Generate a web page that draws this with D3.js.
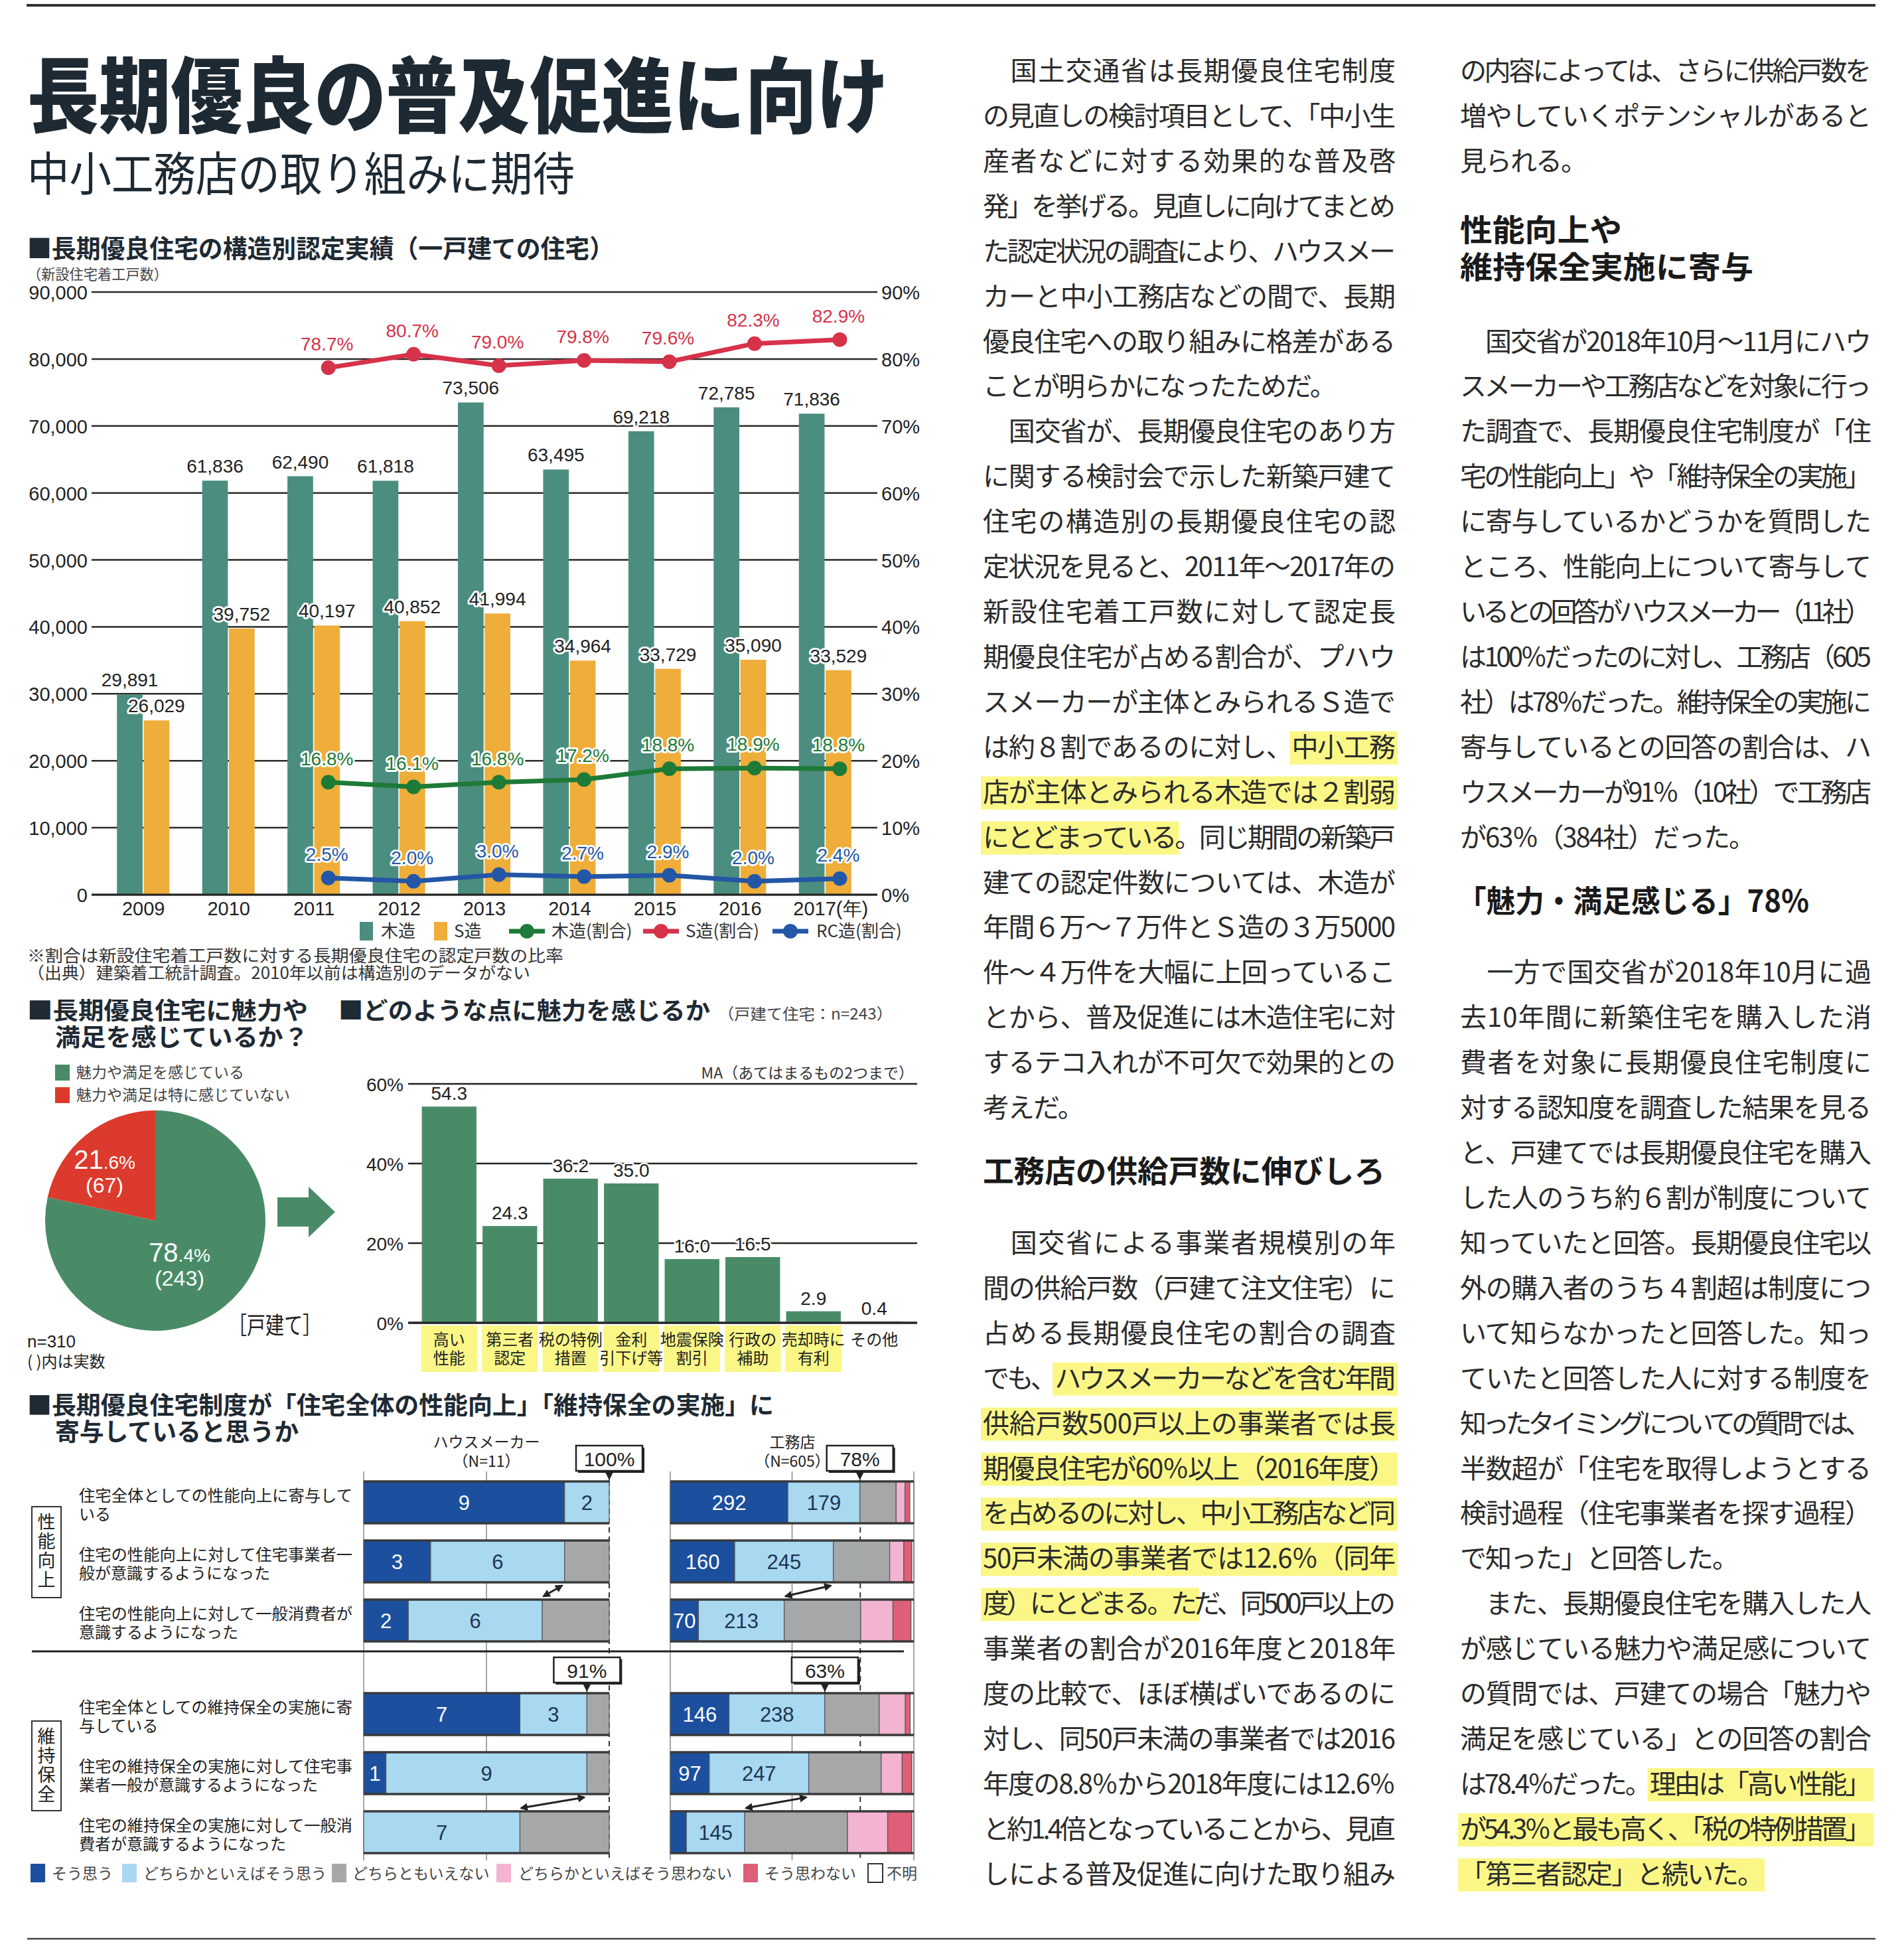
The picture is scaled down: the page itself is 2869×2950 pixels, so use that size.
<!DOCTYPE html>
<html><head><meta charset="utf-8">
<script src="https://cdn.jsdelivr.net/npm/d3@7/dist/d3.min.js"></script>
<style>html,body{margin:0;padding:0;background:#fff}svg{display:block}</style>
</head><body>
<svg id="page" width="2869" height="2950" xmlns="http://www.w3.org/2000/svg"></svg>
<script>
// ================= DATA =================
const years=["2009","2010","2011","2012","2013","2014","2015","2016","2017"];
const woodUnits=[29891,61836,62490,61818,73506,63495,69218,72785,71836];
const steelUnits=[26029,39752,40197,40852,41994,34964,33729,35090,33529];
const rateYears=["2011","2012","2013","2014","2015","2016","2017"];
const steelShare=[78.7,80.7,79.0,79.8,79.6,82.3,82.9];
const woodShare=[16.8,16.1,16.8,17.2,18.8,18.9,18.8];
const rcShare=[2.5,2.0,3.0,2.7,2.9,2.0,2.4];
const unitTicks=[0,10000,20000,30000,40000,50000,60000,70000,80000,90000];
const shareTicks=[0,10,20,30,40,50,60,70,80,90];
const chart1Legend=["木造","S造","木造(割合)","S造(割合)","RC造(割合)"];

const pieNames=["魅力や満足を感じている","魅力や満足は特に感じていない"];
const pieShares=[78.4,21.6];
const pieCounts=[243,67];

const reasonNames=[["高い","性能"],["第三者","認定"],["税の特例","措置"],["金利","引下げ等"],["地震保険","割引"],["行政の","補助"],["売却時に","有利"],["その他"]];
const reasonShares=[54.3,24.3,36.2,35.0,16.0,16.5,2.9,0.4];
const reasonTicks=[0,20,40,60];

const answerNames=["そう思う","どちらかといえばそう思う","どちらともいえない","どちらかといえばそう思わない","そう思わない","不明"];
const questionLines=[
 ["住宅全体としての性能向上に寄与して","いる"],
 ["住宅の性能向上に対して住宅事業者一","般が意識するようになった"],
 ["住宅の性能向上に対して一般消費者が","意識するようになった"],
 ["住宅全体としての維持保全の実施に寄","与している"],
 ["住宅の維持保全の実施に対して住宅事","業者一般が意識するようになった"],
 ["住宅の維持保全の実施に対して一般消","費者が意識するようになった"]];
const groupNames=["性能向上","維持保全"];
const makerN=11, builderN=605;
const makerCounts=[[9,2,0,0,0,0],[3,6,2,0,0,0],[2,6,3,0,0,0],[7,3,1,0,0,0],[1,9,1,0,0,0],[0,7,4,0,0,0]];
const builderCounts=[[292,179,90,22,12,10],[160,245,140,35,20,5],[70,213,190,80,45,7],[146,238,135,65,12,9],[97,247,180,52,24,5],[40,145,255,100,60,5]];
const calloutLabels=[{side:"maker",row:0,label:"100%"},{side:"builder",row:0,label:"78%"},{side:"maker",row:3,label:"91%"},{side:"builder",row:3,label:"63%"}];
const arrowPairs=[[1,2],[4,5]];

// ================= STYLE =================
const svg=d3.select("#page");
const JP='"Noto Sans CJK JP","Noto Sans CJK SC",sans-serif';
const NUM='"Liberation Sans",Arial,sans-serif';
const INK="#222";
const C={bar:"#4b8d7e",steel:"#efad3a",red:"#d6324a",green:"#1e7a37",blue:"#2356a6",pieG:"#4a8b67",pieR:"#dc3a2c",hl:"rgba(248,244,95,0.75)",title:"#1d2933"};
const ansColors=["#1c4f9d","#a9d8f1","#a5a7a9","#f2b4d0","#de5f78","#ffffff"];

function txt(g,x,y,s,o={}){
  const t=g.append("text").attr("x",x).attr("y",y).text(s)
   .attr("font-family",o.ff||JP).attr("font-size",o.fs||24).attr("fill",o.fill||INK)
   .attr("font-weight",o.fw||400).attr("text-anchor",o.anchor||"start");
  if(o.tl) t.attr("textLength",o.tl).attr("lengthAdjust",o.la||"spacingAndGlyphs");
  if(o.halo) t.attr("stroke","#fff").attr("stroke-width",o.halo).attr("paint-order","stroke").attr("stroke-linejoin","round");
  return t;
}

// page rules
svg.append("line").attr("x1",40).attr("x2",2826).attr("y1",8).attr("y2",8).attr("stroke","#333").attr("stroke-width",4);
svg.append("line").attr("x1",41).attr("x2",2826).attr("y1",2921).attr("y2",2921).attr("stroke","#444").attr("stroke-width",2.5);

// titles
txt(svg,41,190,"長期優良の普及促進に向け",{fs:124,fw:900,fill:C.title,tl:1298});
txt(svg,41,288,"中小工務店の取り組みに期待",{fs:70,fw:400,fill:C.title,tl:825});

// ================= CHART 1 =================
const g1=svg.append("g");
txt(g1,41,388,"■長期優良住宅の構造別認定実績（一戸建ての住宅）",{fs:38,fw:700,fill:"#1f2a33",tl:884});
txt(g1,41,421,"（新設住宅着工戸数）",{fs:22,fill:"#444",tl:212});

const x1=d3.scaleBand().domain(years).range([152,1308]);
const c1=d=>x1(d)+x1.bandwidth()/2;
const sub1=d3.scaleBand().domain(["wood","steel"]).range([-40,39]).paddingInner(0.04);
const y1=d3.scaleLinear().domain([0,90000]).range([1348,440]);
const yR=d3.scaleLinear().domain([0,90]).range([1348,440]);

g1.append("g").selectAll("line").data(unitTicks).join("line")
 .attr("x1",138).attr("x2",1322).attr("y1",d=>y1(d)).attr("y2",d=>y1(d))
 .attr("stroke","#2a2a2a").attr("stroke-width",2.5);

const axL=g1.append("g").attr("transform","translate(138,0)")
 .call(d3.axisLeft(y1).tickValues(unitTicks).tickFormat(d3.format(",")).tickSize(0).tickPadding(6));
axL.select(".domain").remove();
axL.selectAll("text").attr("font-size",29).attr("font-family",NUM).attr("fill","#222").attr("dy","0.36em");
const axR=g1.append("g").attr("transform","translate(1322,0)")
 .call(d3.axisRight(yR).tickValues(shareTicks).tickFormat(d=>d+"%").tickSize(0).tickPadding(6));
axR.select(".domain").remove();
axR.selectAll("text").attr("font-size",29).attr("font-family",NUM).attr("fill","#222").attr("dy","0.36em");

const barData=years.map((y,i)=>({y,wood:woodUnits[i],steel:steelUnits[i]}));
g1.append("g").selectAll("rect.w").data(barData).join("rect")
 .attr("x",d=>c1(d.y)+sub1("wood")).attr("width",sub1.bandwidth())
 .attr("y",d=>y1(d.wood)).attr("height",d=>y1(0)-y1(d.wood)).attr("fill",C.bar);
g1.append("g").selectAll("rect.s").data(barData).join("rect")
 .attr("x",d=>c1(d.y)+sub1("steel")).attr("width",sub1.bandwidth())
 .attr("y",d=>y1(d.steel)).attr("height",d=>y1(0)-y1(d.steel)).attr("fill",C.steel);
g1.append("line").attr("x1",138).attr("x2",1322).attr("y1",y1(0)).attr("y2",y1(0)).attr("stroke","#222").attr("stroke-width",3);

const fmt=d3.format(",");
barData.forEach(d=>{
  txt(g1,c1(d.y)+sub1("wood")+sub1.bandwidth()/2,y1(d.wood)-12,fmt(d.wood),{ff:NUM,fs:28,anchor:"middle",halo:6});
  txt(g1,c1(d.y)+sub1("steel")+sub1.bandwidth()/2,y1(d.steel)-12,fmt(d.steel),{ff:NUM,fs:28,anchor:"middle",halo:6});
});
// x labels
g1.append("g").selectAll("text").data(years).join("text")
 .attr("x",d=>c1(d)+(d==="2017"?8:0)).attr("y",1379).attr("text-anchor","middle")
 .attr("font-family",NUM).attr("font-size",29).attr("fill","#222")
 .text(d=>d==="2017"?"2017(年)":d);

const lx=d=>c1(d)+sub1("steel")+sub1.bandwidth()/2+2;
const line1=d3.line().x(d=>lx(d.y)).y(d=>yR(d.v));
const series=[{vals:steelShare,color:C.red,halo:0},{vals:woodShare,color:C.green,halo:6},{vals:rcShare,color:C.blue,halo:6}];
series.forEach(s=>{
  const pts=rateYears.map((y,i)=>({y,v:s.vals[i]}));
  g1.append("path").datum(pts).attr("d",line1).attr("fill","none").attr("stroke",s.color).attr("stroke-width",7).attr("stroke-linejoin","round");
  g1.append("g").selectAll("circle").data(pts).join("circle").attr("cx",d=>lx(d.y)).attr("cy",d=>yR(d.v)).attr("r",11).attr("fill",s.color);
  pts.forEach(d=>txt(g1,lx(d.y)-2,yR(d.v)-26,d.v.toFixed(1)+"%",{ff:NUM,fs:28,anchor:"middle",fill:s.color,halo:s.halo||null}));
});
// legend
const lg=g1.append("g").attr("font-family",JP);
const legY=1403;
lg.append("rect").attr("x",542).attr("y",legY-14).attr("width",20).attr("height",28).attr("fill",C.bar);
txt(lg,574,legY+9,chart1Legend[0],{fs:26,fill:"#333"});
lg.append("rect").attr("x",654).attr("y",legY-14).attr("width",20).attr("height",28).attr("fill",C.steel);
txt(lg,684,legY+9,chart1Legend[1],{fs:26,fill:"#333"});
[[767,C.green,831,2],[969,C.red,1033,3],[1164,C.blue,1230,4]].forEach(([x,c,tx,k])=>{
  lg.append("line").attr("x1",x).attr("x2",x+54).attr("y1",legY).attr("y2",legY).attr("stroke",c).attr("stroke-width",7);
  lg.append("circle").attr("cx",x+27).attr("cy",legY).attr("r",11).attr("fill",c);
  txt(lg,tx,legY+9,chart1Legend[k],{fs:26,fill:"#333"});
});
txt(g1,41,1449,"※割合は新設住宅着工戸数に対する長期優良住宅の認定戸数の比率",{fs:25,fill:"#333",tl:808});
txt(g1,41,1475,"（出典）建築着工統計調査。2010年以前は構造別のデータがない",{fs:25,fill:"#333",tl:758});

// ================= PIE =================
const gp=svg.append("g");
txt(gp,41,1536,"■長期優良住宅に魅力や",{fs:36,fw:700,fill:"#1f2a33",tl:423});
txt(gp,83,1576,"満足を感じているか？",{fs:36,fw:700,fill:"#1f2a33",tl:382});
[[C.pieG,1616,0],[C.pieR,1650,1]].forEach(([c,y,i])=>{
  gp.append("rect").attr("x",83).attr("y",y-12).attr("width",22).attr("height",24).attr("fill",c);
  txt(gp,115,y+8,pieNames[i],{fs:23,fill:"#444"});
});
const pcx=234,pcy=1839,pr=166;
const pie=d3.pie().sort(null)(pieShares);
const arc=d3.arc().innerRadius(0).outerRadius(pr);
const labArc=d3.arc().innerRadius(90).outerRadius(90);
const pg=gp.append("g").attr("transform",`translate(${pcx},${pcy})`);
pg.selectAll("path").data(pie).join("path").attr("d",arc).attr("fill",(d,i)=>i===0?C.pieG:C.pieR);
pie.forEach((d,i)=>{
  const [lx0,ly0]=labArc.centroid(d);
  const px=lx0-20, py=ly0-8;
  const t=pg.append("text").attr("x",px).attr("y",py).attr("text-anchor","middle").attr("fill","#fff").attr("font-family",NUM);
  const parts=pieShares[i].toFixed(1).split(".");
  t.append("tspan").attr("font-size",40).text(parts[0]);
  t.append("tspan").attr("font-size",28).text("."+parts[1]+"%");
  pg.append("text").attr("x",px).attr("y",py+36).attr("text-anchor","middle").attr("fill","#fff").attr("font-family",NUM).attr("font-size",32).text("("+pieCounts[i]+")");
});
txt(gp,344,2010,"［戸建て］",{fs:36,fill:"#222",tl:140});
txt(gp,41,2030,"n=310",{ff:NUM,fs:26,fill:"#222"});
txt(gp,41,2060,"( )内は実数",{fs:24,fill:"#222"});
gp.append("path").attr("d","M418,1804L465,1804L465,1788L505,1826L465,1864L465,1848L418,1848Z").attr("fill",C.pieG);

// ================= CHART 2 =================
const g2=svg.append("g");
txt(g2,510,1536,"■どのような点に魅力を感じるか",{fs:36,fw:700,fill:"#1f2a33",tl:560});
txt(g2,1082,1536,"（戸建て住宅：n=243）",{fs:23,fill:"#444",tl:263});
txt(g2,1377,1625,"MA（あてはまるもの2つまで）",{fs:23,fill:"#333",anchor:"end"});
const reasonKeys=reasonNames.map(d=>d.join(""));
const x2=d3.scaleBand().domain(reasonKeys).range([631,1363]).paddingInner(0.1).paddingOuter(0.05);
const y2=d3.scaleLinear().domain([0,60]).range([1993,1633]);
g2.append("g").selectAll("line").data(reasonTicks).join("line").attr("x1",615).attr("x2",1382)
 .attr("y1",d=>y2(d)).attr("y2",d=>y2(d)).attr("stroke","#222").attr("stroke-width",d=>d===0?3:2.5);
const ax2=g2.append("g").attr("transform","translate(615,0)")
 .call(d3.axisLeft(y2).tickValues(reasonTicks).tickFormat(d=>d+"%").tickSize(0).tickPadding(7));
ax2.select(".domain").remove();
ax2.selectAll("text").attr("font-size",28).attr("font-family",NUM).attr("fill","#222").attr("dy","0.36em");
const rData=reasonKeys.map((k,i)=>({k,v:reasonShares[i],lines:reasonNames[i],i}));
g2.append("g").selectAll("rect").data(rData).join("rect").attr("x",d=>x2(d.k)).attr("width",x2.bandwidth())
 .attr("y",d=>y2(d.v)).attr("height",d=>y2(0)-y2(d.v)).attr("fill",d=>d.i===7?"#8a9a90":C.pieG);
g2.append("line").attr("x1",615).attr("x2",1382).attr("y1",y2(0)).attr("y2",y2(0)).attr("stroke","#222").attr("stroke-width",3);
rData.forEach(d=>{
  txt(g2,x2(d.k)+x2.bandwidth()/2,y2(d.v)-10,d.v.toFixed(1),{ff:NUM,fs:28,anchor:"middle",halo:5});
  if(d.i<7) g2.append("rect").attr("x",x2(d.k)-1).attr("y",1997).attr("width",x2.bandwidth()+2).attr("height",70).attr("fill",C.hl);
  d.lines.forEach((s,j)=>txt(g2,x2(d.k)+x2.bandwidth()/2,2027+j*28,s,{fs:24,anchor:"middle",fill:"#222"}));
});

// ================= CHART 3 (stacked) =================
const g3=svg.append("g");
txt(g3,41,2131,"■長期優良住宅制度が「住宅全体の性能向上」「維持保全の実施」に",{fs:37,fw:700,fill:"#1f2a33",tl:1125});
txt(g3,83,2171,"寄与していると思うか",{fs:37,fw:700,fill:"#1f2a33",tl:367});
const xMaker=d3.scaleLinear().domain([0,makerN]).range([548,918]);
const xBuilder=d3.scaleLinear().domain([0,builderN]).range([1010,1377]);
const rowTop=i=>2232+89*i+(i>=3?52:0);
const rowH=63;
txt(g3,733,2181,"ハウスメーカー",{fs:23,anchor:"middle",fill:"#222"});
txt(g3,733,2210,"（N=11）",{fs:23,anchor:"middle",fill:"#222"});
txt(g3,1194,2181,"工務店",{fs:23,anchor:"middle",fill:"#222"});
txt(g3,1194,2210,"（N=605）",{fs:23,anchor:"middle",fill:"#222"});
// grid
const vgrid=[[xMaker(0),0],[xMaker(makerN/2),0],[xMaker(makerN),1],[xBuilder(0),0],[xBuilder(builderN/2),0],[xBuilder(builderN*0.78),1],[xBuilder(builderN),0]];
g3.append("g").selectAll("line").data(vgrid).join("line").attr("x1",d=>d[0]).attr("x2",d=>d[0]).attr("y1",2217).attr("y2",2803)
 .attr("stroke",d=>d[1]?"#333":"#888").attr("stroke-width",d=>d[1]?2:1.5).attr("stroke-dasharray",d=>d[1]?"8,6":null);
g3.append("line").attr("x1",48).attr("x2",1362).attr("y1",2488).attr("y2",2488).attr("stroke","#222").attr("stroke-width",3);

function stackRow(vals){let c=0;return vals.map((v,k)=>{const o={k,v,a:c,b:c+v};c+=v;return o;});}
[[makerCounts,xMaker],[builderCounts,xBuilder]].forEach(([rows,xs])=>{
  rows.forEach((vals,i)=>{
    const y=rowTop(i);
    const st=stackRow(vals).filter(d=>d.v>0);
    g3.append("g").selectAll("rect").data(st).join("rect").attr("x",d=>xs(d.a)).attr("width",d=>xs(d.b)-xs(d.a))
      .attr("y",y).attr("height",rowH).attr("fill",d=>ansColors[d.k]).attr("stroke","#555").attr("stroke-width",1.2);
    const x0=xs.range()[0],x1r=xs.range()[1];
    g3.append("line").attr("x1",x0).attr("x2",x1r).attr("y1",y).attr("y2",y).attr("stroke","#3a3a3a").attr("stroke-width",3.5);
    g3.append("line").attr("x1",x0).attr("x2",x1r).attr("y1",y+rowH).attr("y2",y+rowH).attr("stroke","#3a3a3a").attr("stroke-width",3.5);
    st.filter(d=>d.k<2 && xs(d.b)-xs(d.a)>30).forEach(d=>{
      txt(g3,(xs(d.a)+xs(d.b))/2,y+rowH/2+11,String(d.v),{ff:NUM,fs:31,anchor:"middle",fill:d.k===0?"#fff":"#1d3550"});
    });
  });
  arrowPairs.forEach(([a,b])=>{
    const pa=rows[a][0]+rows[a][1], pb=rows[b][0]+rows[b][1];
    const xa=xs(pa)-4, xb=xs(pb)+2, ya=rowTop(a)+rowH+5, yb=rowTop(b)-5;
    g3.append("line").attr("x1",xa).attr("y1",ya).attr("x2",xb).attr("y2",yb).attr("stroke","#222").attr("stroke-width",3)
      .attr("marker-start","url(#ah)").attr("marker-end","url(#ah)");
  });
});
const defs=svg.append("defs");
defs.append("marker").attr("id","ah").attr("viewBox","0 0 10 10").attr("refX",8).attr("refY",5).attr("markerWidth",4).attr("markerHeight",4).attr("orient","auto-start-reverse")
 .append("path").attr("d","M0,0L10,5L0,10Z").attr("fill","#222");
// callouts
calloutLabels.forEach(c=>{
  const rows=c.side==="maker"?makerCounts:builderCounts, xs=c.side==="maker"?xMaker:xBuilder;
  const xv=xs(rows[c.row][0]+rows[c.row][1]);
  const bt=rowTop(c.row)-54, bw=100, bh=38;
  g3.append("rect").attr("x",xv-bw/2+3).attr("y",bt+3).attr("width",bw).attr("height",bh).attr("fill","#222");
  g3.append("rect").attr("x",xv-bw/2).attr("y",bt).attr("width",bw).attr("height",bh).attr("fill","#fff").attr("stroke","#222").attr("stroke-width",2.5);
  txt(g3,xv,bt+31,c.label,{ff:NUM,fs:30,anchor:"middle",fill:"#222"});
  g3.append("path").attr("d",`M${xv-6},${bt+bh+2}L${xv+6},${bt+bh+2}L${xv},${bt+bh+14}Z`).attr("fill","#222");
  g3.append("line").attr("x1",xv).attr("x2",xv).attr("y1",bt+bh+12).attr("y2",rowTop(c.row)).attr("stroke","#222").attr("stroke-width",1.5);
});
// question labels & groups
questionLines.forEach((ls,i)=>{
  const cy=rowTop(i)+rowH/2;
  ls.forEach((s,j)=>txt(g3,119,cy-2+j*28,s,{fs:24,fill:"#222",tl:j===0?412:null}));
});
groupNames.forEach((nm,gi)=>{
  const top=gi===0?2270:2593, h=gi===0?137:135;
  g3.append("rect").attr("x",48).attr("y",top).attr("width",44).attr("height",h).attr("fill","none").attr("stroke","#333").attr("stroke-width",2);
  [...nm].forEach((ch,k)=>txt(g3,70,top+33+29*k,ch,{fs:27,anchor:"middle",fill:"#222"}));
});
// legend
const lx3=[46,184,500,748,1120,1308], ltx=[78,216,531,781,1152,1336];
answerNames.forEach((nm,k)=>{
  g3.append("rect").attr("x",lx3[k]).attr("y",2808).attr("width",22).attr("height",28).attr("fill",ansColors[k]).attr("stroke",k===5?"#333":"none").attr("stroke-width",2);
  txt(g3,ltx[k],2831,nm,{fs:23,fill:"#444"});
});

// ================= BODY TEXT =================
const midCol=[
 [0,"　国土交通省は長期優良住宅制度",1],
 [1,"の見直しの検討項目として、「中小生",1],
 [2,"産者などに対する効果的な普及啓",1],
 [3,"発」を挙げる。見直しに向けてまとめ",1],
 [4,"た認定状況の調査により、ハウスメー",1],
 [5,"カーと中小工務店などの間で、長期",1],
 [6,"優良住宅への取り組みに格差がある",1],
 [7,"ことが明らかになったためだ。",0],
 [8,"　国交省が、長期優良住宅のあり方",1],
 [9,"に関する検討会で示した新築戸建て",1],
 [10,"住宅の構造別の長期優良住宅の認",1],
 [11,"定状況を見ると、2011年～2017年の",1],
 [12,"新設住宅着工戸数に対して認定長",1],
 [13,"期優良住宅が占める割合が、プハウ",1],
 [14,"スメーカーが主体とみられるＳ造で",1],
 [15,"は約８割であるのに対し、中小工務",1,"中小工務"],
 [16,"店が主体とみられる木造では２割弱",1,"*"],
 [17,"にとどまっている。同じ期間の新築戸",1,"にとどまっている"],
 [18,"建ての認定件数については、木造が",1],
 [19,"年間６万～７万件とＳ造の３万5000",1],
 [20,"件～４万件を大幅に上回っているこ",1],
 [21,"とから、普及促進には木造住宅に対",1],
 [22,"するテコ入れが不可欠で効果的との",1],
 [23,"考えだ。",0],
 [26,"　国交省による事業者規模別の年",1],
 [27,"間の供給戸数（戸建て注文住宅）に",1],
 [28,"占める長期優良住宅の割合の調査",1],
 [29,"でも、ハウスメーカーなどを含む年間",1,"ハウスメーカーなどを含む年間"],
 [30,"供給戸数500戸以上の事業者では長",1,"*"],
 [31,"期優良住宅が60％以上（2016年度）",1,"*"],
 [32,"を占めるのに対し、中小工務店など同",1,"*"],
 [33,"50戸未満の事業者では12.6％（同年",1,"*"],
 [34,"度）にとどまる。ただ、同500戸以上の",1,"度）にとどまる。た"],
 [35,"事業者の割合が2016年度と2018年",1],
 [36,"度の比較で、ほぼ横ばいであるのに",1],
 [37,"対し、同50戸未満の事業者では2016",1],
 [38,"年度の8.8％から2018年度には12.6％",1],
 [39,"と約1.4倍となっていることから、見直",1],
 [40,"しによる普及促進に向けた取り組み",1]];
const rightCol=[
 [0,"の内容によっては、さらに供給戸数を",1],
 [1,"増やしていくポテンシャルがあると",1],
 [2,"見られる。",0],
 [6,"　国交省が2018年10月～11月にハウ",1],
 [7,"スメーカーや工務店などを対象に行っ",1],
 [8,"た調査で、長期優良住宅制度が「住",1],
 [9,"宅の性能向上」や「維持保全の実施」",1],
 [10,"に寄与しているかどうかを質問した",1],
 [11,"ところ、性能向上について寄与して",1],
 [12,"いるとの回答がハウスメーカー（11社）",1],
 [13,"は100％だったのに対し、工務店（605",1],
 [14,"社）は78％だった。維持保全の実施に",1],
 [15,"寄与しているとの回答の割合は、ハ",1],
 [16,"ウスメーカーが91％（10社）で工務店",1],
 [17,"が63％（384社）だった。",0],
 [20,"　一方で国交省が2018年10月に過",1],
 [21,"去10年間に新築住宅を購入した消",1],
 [22,"費者を対象に長期優良住宅制度に",1],
 [23,"対する認知度を調査した結果を見る",1],
 [24,"と、戸建てでは長期優良住宅を購入",1],
 [25,"した人のうち約６割が制度について",1],
 [26,"知っていたと回答。長期優良住宅以",1],
 [27,"外の購入者のうち４割超は制度につ",1],
 [28,"いて知らなかったと回答した。知っ",1],
 [29,"ていたと回答した人に対する制度を",1],
 [30,"知ったタイミングについての質問では、",1],
 [31,"半数超が「住宅を取得しようとする",1],
 [32,"検討過程（住宅事業者を探す過程）",1],
 [33,"で知った」と回答した。",0],
 [34,"　また、長期優良住宅を購入した人",1],
 [35,"が感じている魅力や満足感について",1],
 [36,"の質問では、戸建ての場合「魅力や",1],
 [37,"満足を感じている」との回答の割合",1],
 [38,"は78.4％だった。理由は「高い性能」",1,"理由は「高い性能」"],
 [39,"が54.3％と最も高く、「税の特例措置」",1,"*"],
 [40,"「第三者認定」と続いた。",0,"*"]];

const gHl=svg.append("g"), gBody=svg.append("g");
function column(lines,x0,width){
  lines.forEach(([s,t,full,h])=>{
    const y=121+67.92*s;
    const el=gBody.append("text").attr("x",x0).attr("y",y).attr("font-family",JP).attr("font-size",40).attr("fill","#2b2b2b").text(t);
    if(full) el.attr("textLength",width).attr("lengthAdjust","spacing");
    else el.style("letter-spacing","-2px");
    if(h){
      const idx=h==="*"?0:t.indexOf(h), n=h==="*"?t.length:h.length;
      const nd=el.node();
      try{
        const a=nd.getExtentOfChar(idx), b=nd.getExtentOfChar(idx+n-1);
        gHl.append("rect").attr("x",a.x-3).attr("y",y-38).attr("width",b.x+b.width-a.x+6).attr("height",50).attr("fill",C.hl);
      }catch(e){}
    }
  });
}
column(midCol,1481,622);
column(rightCol,2200,620);
// column headings
txt(svg,1481,1781,"工務店の供給戸数に伸びしろ",{fs:46,fw:700,fill:"#1a1a1a",tl:606});
txt(svg,2200,363,"性能向上や",{fs:46,fw:700,fill:"#1a1a1a",tl:244});
txt(svg,2200,419,"維持保全実施に寄与",{fs:46,fw:700,fill:"#1a1a1a",tl:442});
txt(svg,2196,1374,"「魅力・満足感じる」78%",{fs:46,fw:700,fill:"#1a1a1a",tl:530});
</script>
</body></html>
